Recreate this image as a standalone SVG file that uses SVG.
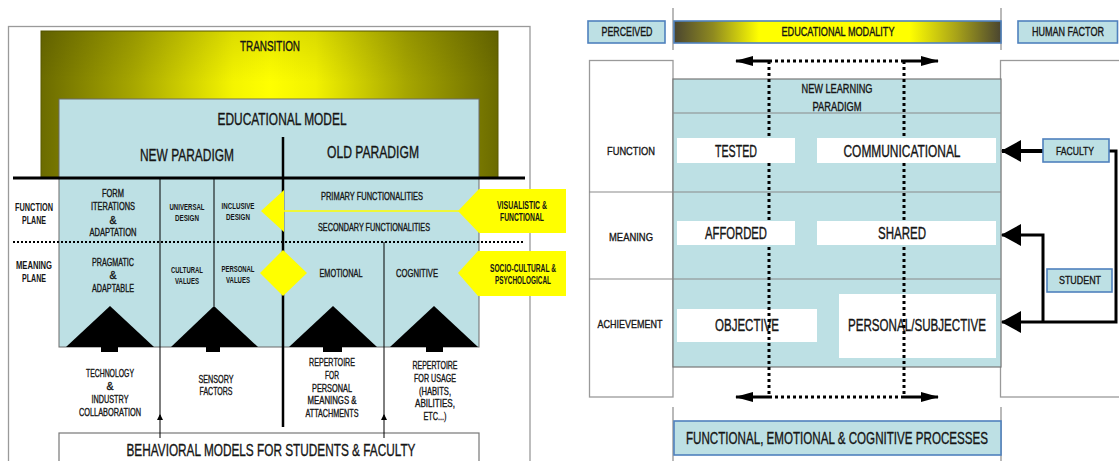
<svg xmlns="http://www.w3.org/2000/svg" width="1119" height="461" viewBox="0 0 1119 461">
<style>
text{font-family:'Liberation Sans Narrow','Liberation Sans',Arial,sans-serif;fill:#151515;stroke:#151515;stroke-width:0.35;text-anchor:middle;dominant-baseline:central}
.lb{fill:#bde0e4}
.box{fill:#bde0e4;stroke:#4f81bd;stroke-width:1.6}
.wb{fill:#fff}
.frame{fill:#fff;stroke:#9a9a9a;stroke-width:1.3}
.gl{stroke:#8a8a8a;stroke-width:1.2}
.tri{fill:#000}
.yel{fill:#ffff00}
.thin{stroke:#000;stroke-width:1;fill:none}
.dot{stroke:#000;stroke-width:3;stroke-dasharray:3 3;fill:none}
.ldot{stroke:#000;stroke-width:1.8;stroke-dasharray:2 2;fill:none}
.thick{stroke:#000;stroke-width:3;fill:none}
.f9{font-size:9px}
.f10{font-size:10.5px}
.f11{font-size:11.5px}
.f12{font-size:12px}
.f16{font-size:16px}
.f17{font-size:17px}
.f18{font-size:17px}
.b{font-weight:bold;stroke-width:0}
</style>
<defs>
<linearGradient id="gTrans" x1="0" y1="0" x2="1" y2="0">
<stop offset="0" stop-color="#6b6b00"/>
<stop offset="0.2" stop-color="#a6a600"/>
<stop offset="0.42" stop-color="#f4f400"/>
<stop offset="0.5" stop-color="#ffff00"/>
<stop offset="0.6" stop-color="#f2f200"/>
<stop offset="0.8" stop-color="#a6a600"/>
<stop offset="1" stop-color="#6b6b00"/>
</linearGradient>
<linearGradient id="gTransV" x1="0" y1="0" x2="0" y2="1">
<stop offset="0" stop-color="#000" stop-opacity="0.1"/>
<stop offset="0.35" stop-color="#000" stop-opacity="0"/>
</linearGradient>
<linearGradient id="gMod" x1="0" y1="0" x2="1" y2="0">
<stop offset="0" stop-color="#4a4530"/>
<stop offset="0.12" stop-color="#8f8a20"/>
<stop offset="0.26" stop-color="#ffff00"/>
<stop offset="0.72" stop-color="#ffff00"/>
<stop offset="0.86" stop-color="#aaa518"/>
<stop offset="1" stop-color="#4a4530"/>
</linearGradient>
<marker id="mBig" markerUnits="userSpaceOnUse" markerWidth="20" markerHeight="22" refX="19" refY="11" orient="auto">
<path d="M0,0 L20,11 L0,22 z" fill="#000"/>
</marker>
<marker id="mDbl" markerUnits="userSpaceOnUse" markerWidth="18" markerHeight="10" refX="17" refY="5" orient="auto-start-reverse">
<path d="M0,0 L18,5 L0,10 z" fill="#000"/>
</marker>
<marker id="mSm" markerUnits="userSpaceOnUse" markerWidth="6" markerHeight="6" refX="5" refY="3" orient="auto">
<path d="M0,0 L6,3 L0,6 z" fill="#000"/>
</marker>
</defs>

<rect width="1119" height="461" fill="#fff"/>

<!-- LEFT PANEL -->
<g id="left-frame">
<rect class="frame" x="8.5" y="26.5" width="521.5" height="450"/>
</g>
<g id="transition">
<rect x="41" y="31" width="457" height="147" fill="url(#gTrans)" stroke="#5a5a00" stroke-width="1"/>
<rect x="41" y="31" width="457" height="147" fill="url(#gTransV)"/>
<text x="270" y="46" font-size="14" textLength="60" lengthAdjust="spacingAndGlyphs">TRANSITION</text>
</g>
<g id="educational-model">
<rect class="lb" x="59" y="99" width="420" height="248" stroke="#6a6a6a" stroke-width="1"/>
<text class="f16" x="282" y="119" textLength="129" lengthAdjust="spacingAndGlyphs">EDUCATIONAL MODEL</text>
<text class="f17" x="187" y="155" textLength="94" lengthAdjust="spacingAndGlyphs">NEW PARADIGM</text>
<text class="f17" x="373" y="152" textLength="92" lengthAdjust="spacingAndGlyphs">OLD PARADIGM</text>
</g>
<g id="plane-lines">
<line class="thick" x1="13" y1="178" x2="525" y2="178"/>
<line x1="283" y1="137" x2="283" y2="427" stroke="#000" stroke-width="2.5"/>
<line class="ldot" x1="13" y1="242" x2="525" y2="242"/>
<line class="thin" x1="214" y1="178" x2="214" y2="306"/>
</g>
<g id="plane-labels">
<text class="f10 b" x="34" y="207" textLength="38" lengthAdjust="spacingAndGlyphs">FUNCTION</text>
<text class="f10 b" x="34" y="220" textLength="24" lengthAdjust="spacingAndGlyphs">PLANE</text>
<text class="f10 b" x="34" y="265" textLength="36" lengthAdjust="spacingAndGlyphs">MEANING</text>
<text class="f10 b" x="34" y="278" textLength="24" lengthAdjust="spacingAndGlyphs">PLANE</text>
</g>
<g id="form-iterations">
<text class="f10" x="113" y="193" textLength="22" lengthAdjust="spacingAndGlyphs">FORM</text>
<text class="f10" x="113" y="206" textLength="44" lengthAdjust="spacingAndGlyphs">ITERATIONS</text>
<text class="f10" x="113" y="219.5">&amp;</text>
<text class="f10" x="113" y="232" textLength="47" lengthAdjust="spacingAndGlyphs">ADAPTATION</text>
</g>
<g id="universal-design">
<text class="f9 b" x="187" y="207" textLength="35" lengthAdjust="spacingAndGlyphs">UNIVERSAL</text>
<text class="f9 b" x="187" y="218" textLength="24" lengthAdjust="spacingAndGlyphs">DESIGN</text>
</g>
<g id="inclusive-design">
<text class="f9 b" x="238" y="206" textLength="33" lengthAdjust="spacingAndGlyphs">INCLUSIVE</text>
<text class="f9 b" x="238" y="217" textLength="24" lengthAdjust="spacingAndGlyphs">DESIGN</text>
</g>
<g id="functionalities">
<text class="f10" x="372" y="196" textLength="102" lengthAdjust="spacingAndGlyphs">PRIMARY FUNCTIONALITIES</text>
<text class="f10" x="374" y="227" textLength="112" lengthAdjust="spacingAndGlyphs">SECONDARY FUNCTIONALITIES</text>
</g>
<g id="pragmatic">
<text class="f10" x="113" y="262" textLength="42" lengthAdjust="spacingAndGlyphs">PRAGMATIC</text>
<text class="f10" x="113" y="275">&amp;</text>
<text class="f10" x="113" y="288" textLength="42" lengthAdjust="spacingAndGlyphs">ADAPTABLE</text>
</g>
<g id="cultural-values">
<text class="f9 b" x="187" y="270" textLength="32" lengthAdjust="spacingAndGlyphs">CULTURAL</text>
<text class="f9 b" x="187" y="281" textLength="24" lengthAdjust="spacingAndGlyphs">VALUES</text>
</g>
<g id="personal-values">
<text class="f9 b" x="238" y="269" textLength="33" lengthAdjust="spacingAndGlyphs">PERSONAL</text>
<text class="f9 b" x="238" y="280" textLength="24" lengthAdjust="spacingAndGlyphs">VALUES</text>
</g>
<g id="emotional"><text class="f10" x="341" y="273" textLength="43" lengthAdjust="spacingAndGlyphs">EMOTIONAL</text></g>
<g id="cognitive"><text class="f10" x="417" y="273" textLength="42" lengthAdjust="spacingAndGlyphs">COGNITIVE</text></g>
<g id="yellow-pointers">
<line x1="283" y1="211" x2="460" y2="211" stroke="#ffff00" stroke-width="1.5"/>
<polygon class="yel" points="261,211 284,190 284,232"/>
<polygon class="yel" points="260,273 283,250 307,273 283,296"/>
</g>
<g id="visualistic">
<polygon class="yel" points="458,211 479,189 566,189 566,233 479,233"/>
<text class="f10 b" x="522" y="205" textLength="50" lengthAdjust="spacingAndGlyphs">VISUALISTIC &amp;</text>
<text class="f10 b" x="522" y="217" textLength="44" lengthAdjust="spacingAndGlyphs">FUNCTIONAL</text>
</g>
<g id="socio-cultural">
<polygon class="yel" points="458,273 478,251 566,251 566,296 478,296"/>
<text class="f10 b" x="523" y="268" textLength="66" lengthAdjust="spacingAndGlyphs">SOCIO-CULTURAL &amp;</text>
<text class="f10 b" x="523" y="280" textLength="56" lengthAdjust="spacingAndGlyphs">PSYCHOLOGICAL</text>
</g>
<g id="triangles">
<polygon class="tri" points="66,347 110,306 154,347"/><rect class="tri" x="101" y="346" width="17" height="6"/>
<polygon class="tri" points="171,347 214,306 258,347"/><rect class="tri" x="206" y="346" width="14" height="6"/>
<polygon class="tri" points="289,347 333,306 377,347"/><rect class="tri" x="323" y="346" width="19" height="6"/>
<polygon class="tri" points="390,347 434,306 478,347"/><rect class="tri" x="426" y="346" width="17" height="6"/>
</g>
<g id="technology">
<text class="f10" x="110" y="373" textLength="48" lengthAdjust="spacingAndGlyphs">TECHNOLOGY</text>
<text class="f10" x="110" y="386">&amp;</text>
<text class="f10" x="110" y="399" textLength="37" lengthAdjust="spacingAndGlyphs">INDUSTRY</text>
<text class="f10" x="110" y="412" textLength="62" lengthAdjust="spacingAndGlyphs">COLLABORATION</text>
</g>
<g id="sensory">
<text class="f10" x="216" y="379" textLength="35" lengthAdjust="spacingAndGlyphs">SENSORY</text>
<text class="f10" x="216" y="391" textLength="33" lengthAdjust="spacingAndGlyphs">FACTORS</text>
</g>
<g id="repertoire-meanings">
<text class="f10" x="332" y="362" textLength="46" lengthAdjust="spacingAndGlyphs">REPERTOIRE</text>
<text class="f10" x="332" y="375" textLength="14" lengthAdjust="spacingAndGlyphs">FOR</text>
<text class="f10" x="332" y="388" textLength="40" lengthAdjust="spacingAndGlyphs">PERSONAL</text>
<text class="f10" x="332" y="400" textLength="49" lengthAdjust="spacingAndGlyphs">MEANINGS &amp;</text>
<text class="f10" x="332" y="413" textLength="53" lengthAdjust="spacingAndGlyphs">ATTACHMENTS</text>
</g>
<g id="repertoire-usage">
<text class="f10" x="435" y="365" textLength="45" lengthAdjust="spacingAndGlyphs">REPERTOIRE</text>
<text class="f10" x="435" y="378" textLength="42" lengthAdjust="spacingAndGlyphs">FOR USAGE</text>
<text class="f10" x="435" y="391" textLength="32" lengthAdjust="spacingAndGlyphs">(HABITS,</text>
<text class="f10" x="435" y="403" textLength="40" lengthAdjust="spacingAndGlyphs">ABILITIES,</text>
<text class="f10" x="435" y="416" textLength="23" lengthAdjust="spacingAndGlyphs">ETC...)</text>
</g>
<g id="behavioral-models">
<rect x="59" y="433" width="420" height="40" fill="#fff" stroke="#777" stroke-width="1.2"/>
<text class="f18" x="271" y="450" textLength="289" lengthAdjust="spacingAndGlyphs">BEHAVIORAL MODELS FOR STUDENTS &amp; FACULTY</text>
</g>

<!-- RIGHT PANEL -->
<g id="right-frame">
<line class="gl" x1="673" y1="8" x2="673" y2="50"/>
<line class="gl" x1="1001" y1="8" x2="1001" y2="50"/>
<line class="gl" x1="673" y1="407" x2="673" y2="461"/>
<line class="gl" x1="1001" y1="407" x2="1001" y2="461"/>
<rect class="frame" x="589.5" y="60.5" width="83.5" height="336.5"/>
<rect class="frame" x="1000.5" y="60.5" width="130" height="336.5"/>
</g>
<g id="perceived">
<rect class="box" x="588" y="21" width="77" height="22"/>
<text class="f12" x="627" y="32" textLength="51" lengthAdjust="spacingAndGlyphs">PERCEIVED</text>
</g>
<g id="educational-modality">
<rect x="674" y="21" width="327" height="22" fill="url(#gMod)" stroke="#4f81bd" stroke-width="1.6"/>
<text class="f12" x="838" y="32" textLength="113" lengthAdjust="spacingAndGlyphs">EDUCATIONAL MODALITY</text>
</g>
<g id="human-factor">
<rect class="box" x="1018" y="21" width="99.5" height="22"/>
<text class="f12" x="1068" y="32" textLength="72" lengthAdjust="spacingAndGlyphs">HUMAN FACTOR</text>
</g>
<g id="new-learning-paradigm">
<rect class="lb" x="673" y="79" width="328" height="288" stroke="#777" stroke-width="1.2"/>
<line class="gl" x1="673" y1="113" x2="1001" y2="113"/>
<line class="gl" x1="589" y1="192" x2="1001" y2="192"/>
<line class="gl" x1="589" y1="279" x2="1001" y2="279"/>
<text class="f12" x="837" y="89" textLength="71" lengthAdjust="spacingAndGlyphs">NEW LEARNING</text>
<text class="f12" x="837" y="107" textLength="49" lengthAdjust="spacingAndGlyphs">PARADIGM</text>
</g>
<g id="row-labels">
<text class="f11" x="631" y="151" textLength="48" lengthAdjust="spacingAndGlyphs">FUNCTION</text>
<text class="f11" x="631" y="237" textLength="44" lengthAdjust="spacingAndGlyphs">MEANING</text>
<text class="f11" x="630" y="324" textLength="65" lengthAdjust="spacingAndGlyphs">ACHIEVEMENT</text>
</g>
<g id="objective">
<rect class="wb" x="677" y="309" width="140" height="33"/>
<text class="f16" x="747" y="325" textLength="64" lengthAdjust="spacingAndGlyphs">OBJECTIVE</text>
</g>
<g id="personal-subjective">
<rect class="wb" x="839" y="294" width="157" height="64"/>
<text class="f16" x="917" y="325" textLength="138" lengthAdjust="spacingAndGlyphs">PERSONAL/SUBJECTIVE</text>
</g>

<g id="connectors">
<line class="dot" x1="769" y1="61" x2="769" y2="397"/>
<line class="dot" x1="904" y1="61" x2="904" y2="397"/>
<line class="dot" x1="769" y1="61" x2="904" y2="61"/>
<line class="dot" x1="769" y1="397" x2="904" y2="397"/>
<line class="thick" x1="769" y1="61" x2="736" y2="61" marker-end="url(#mDbl)"/>
<line class="thick" x1="904" y1="61" x2="938" y2="61" marker-end="url(#mDbl)"/>
<line class="thick" x1="769" y1="397" x2="736" y2="397" marker-end="url(#mDbl)"/>
<line class="thick" x1="904" y1="397" x2="938" y2="397" marker-end="url(#mDbl)"/>
<line x1="1043" y1="151" x2="1002" y2="151" stroke="#000" stroke-width="4" marker-end="url(#mBig)"/>
<polyline points="1109,151 1116,151 1116,322 1002,322" stroke="#000" stroke-width="3" fill="none" marker-end="url(#mBig)"/>
<polyline points="1043,322 1043,235 1002,235" stroke="#000" stroke-width="3" fill="none" marker-end="url(#mBig)"/>
<line class="thin" x1="160" y1="178" x2="160" y2="438"/>
<line class="thin" x1="160" y1="420" x2="160" y2="415" marker-end="url(#mSm)"/>
<line class="thin" x1="384" y1="242" x2="384" y2="438"/>
<line class="thin" x1="384" y1="420" x2="384" y2="415" marker-end="url(#mSm)"/>
</g>

<g id="tested">
<rect class="wb" x="677" y="138" width="118" height="25"/>
<text class="f16" x="736" y="151" textLength="42" lengthAdjust="spacingAndGlyphs">TESTED</text>
</g>
<g id="communicational">
<rect class="wb" x="817" y="138" width="179" height="25"/>
<text class="f16" x="902" y="151" textLength="117" lengthAdjust="spacingAndGlyphs">COMMUNICATIONAL</text>
</g>
<g id="afforded">
<rect class="wb" x="677" y="221" width="118" height="24"/>
<text class="f16" x="736" y="233" textLength="62" lengthAdjust="spacingAndGlyphs">AFFORDED</text>
</g>
<g id="shared">
<rect class="wb" x="817" y="221" width="179" height="24"/>
<text class="f16" x="902" y="233" textLength="48" lengthAdjust="spacingAndGlyphs">SHARED</text>
</g>
<g id="faculty">
<rect class="box" x="1043" y="139" width="66" height="23"/>
<text class="f11" x="1075" y="151" textLength="38" lengthAdjust="spacingAndGlyphs">FACULTY</text>
</g>
<g id="student">
<rect class="box" x="1047" y="269" width="65" height="23"/>
<text class="f11" x="1080" y="280" textLength="42" lengthAdjust="spacingAndGlyphs">STUDENT</text>
</g>
<g id="processes">
<rect class="box" x="674" y="421" width="327" height="34"/>
<text class="f18" x="837" y="438" textLength="302" lengthAdjust="spacingAndGlyphs">FUNCTIONAL, EMOTIONAL &amp; COGNITIVE PROCESSES</text>
</g>
</svg>
